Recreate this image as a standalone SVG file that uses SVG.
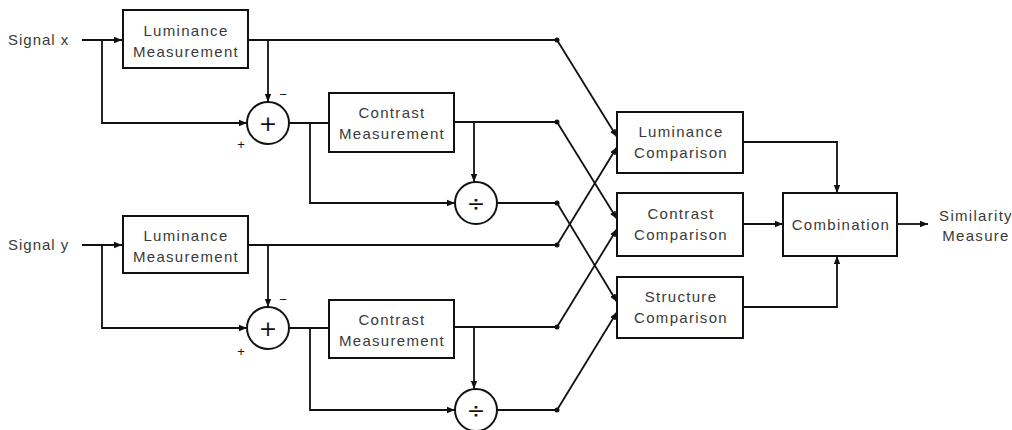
<svg xmlns="http://www.w3.org/2000/svg" width="1012" height="430" viewBox="0 0 1012 430">
<defs>
<marker id="ah" viewBox="0 0 10 10" refX="10" refY="5" markerWidth="8" markerHeight="8" markerUnits="userSpaceOnUse" orient="auto">
<path d="M0,1 L10,5 L0,9 z" fill="#111"/>
</marker>
<style>
.box{fill:#fff;stroke:#111;stroke-width:2}
.op{fill:#fff;stroke:#111;stroke-width:2}
.t{font-family:"Liberation Sans",Arial,sans-serif;font-size:15px;letter-spacing:1.3px;fill:#3a3a3a;text-anchor:middle}
.lbl{font-family:"Liberation Sans",Arial,sans-serif;font-size:15px;letter-spacing:1px;fill:#3a3a3a}
.sym{font-family:"DejaVu Sans",sans-serif;font-size:22px;fill:#111;text-anchor:middle}
.sg{font-family:"Liberation Sans",Arial,sans-serif;font-size:13px;fill:#111;text-anchor:middle}
.w{fill:none;stroke:#111;stroke-width:1.8}
.a{fill:none;stroke:#111;stroke-width:1.8;marker-end:url(#ah)}
.d{fill:#111}
</style>
</defs>
<rect width="1012" height="430" fill="#fff"/>

<g id="connectors">
<!-- signal x -->
<path class="a" d="M82,40 H122"/>
<path class="a" d="M102,40 V123 H247"/>
<path class="w" d="M248,40 H557"/>
<path class="a" d="M268,40 V102"/>
<path class="w" d="M289,123 H329"/>
<path class="a" d="M310,123 V203 H455"/>
<path class="w" d="M454,122 H557"/>
<path class="a" d="M474,122 V182"/>
<path class="w" d="M497,203 H557"/>
<!-- signal y -->
<path class="a" d="M82,245 H122"/>
<path class="a" d="M102,245 V328 H247"/>
<path class="w" d="M248,245 H557"/>
<path class="a" d="M268,245 V307"/>
<path class="w" d="M289,328 H329"/>
<path class="a" d="M310,328 V410 H455"/>
<path class="w" d="M454,327 H557"/>
<path class="a" d="M474,327 V389"/>
<path class="w" d="M497,410 H557"/>
<!-- crossings -->
<path class="a" d="M557,40 L617,137"/>
<path class="a" d="M557,245 L617,147"/>
<path class="a" d="M557,122 L617,219"/>
<path class="a" d="M557,327 L617,229"/>
<path class="a" d="M557,203 L617,302"/>
<path class="a" d="M557,410 L617,312"/>
<!-- to combination -->
<path class="a" d="M743,142 H837 V193"/>
<path class="a" d="M743,224 H783"/>
<path class="a" d="M743,307 H837 V256"/>
<path class="a" d="M897,224 H928"/>
<!-- junction dots -->
<circle class="d" cx="557" cy="40" r="2.5"/>
<circle class="d" cx="557" cy="122" r="2.5"/>
<circle class="d" cx="557" cy="203" r="2.5"/>
<circle class="d" cx="557" cy="245" r="2.5"/>
<circle class="d" cx="557" cy="327" r="2.5"/>
<circle class="d" cx="557" cy="410" r="2.5"/>
</g>

<g id="signal-x"><text class="lbl" x="8" y="45">Signal x</text></g>
<g id="signal-y"><text class="lbl" x="8" y="250">Signal y</text></g>

<g id="lum-meas-x">
<rect class="box" x="123" y="10" width="125" height="58"/>
<text class="t" x="186" y="36">Luminance</text>
<text class="t" x="186" y="57">Measurement</text>
</g>
<g id="sum-x">
<circle class="op" cx="268" cy="123" r="21"/>
<text class="sym" x="268" y="131">+</text>
<text class="sg" x="283" y="99">−</text>
<text class="sg" x="241" y="149">+</text>
</g>
<g id="con-meas-x">
<rect class="box" x="329" y="93" width="125" height="59"/>
<text class="t" x="392" y="118">Contrast</text>
<text class="t" x="392" y="139">Measurement</text>
</g>
<g id="div-x">
<circle class="op" cx="476" cy="203" r="21"/>
<text class="sym" x="476" y="211">÷</text>
</g>

<g id="lum-meas-y">
<rect class="box" x="123" y="216" width="125" height="57"/>
<text class="t" x="186" y="241">Luminance</text>
<text class="t" x="186" y="262">Measurement</text>
</g>
<g id="sum-y">
<circle class="op" cx="268" cy="328" r="21"/>
<text class="sym" x="268" y="336">+</text>
<text class="sg" x="283" y="304">−</text>
<text class="sg" x="241" y="356">+</text>
</g>
<g id="con-meas-y">
<rect class="box" x="329" y="300" width="125" height="58"/>
<text class="t" x="392" y="325">Contrast</text>
<text class="t" x="392" y="346">Measurement</text>
</g>
<g id="div-y">
<circle class="op" cx="476" cy="410" r="21"/>
<text class="sym" x="476" y="418">÷</text>
</g>

<g id="lum-comp">
<rect class="box" x="617" y="112" width="126" height="61"/>
<text class="t" x="681" y="137">Luminance</text>
<text class="t" x="681" y="158">Comparison</text>
</g>
<g id="con-comp">
<rect class="box" x="617" y="193" width="126" height="63"/>
<text class="t" x="681" y="219">Contrast</text>
<text class="t" x="681" y="240">Comparison</text>
</g>
<g id="str-comp">
<rect class="box" x="617" y="277" width="126" height="61"/>
<text class="t" x="681" y="302">Structure</text>
<text class="t" x="681" y="323">Comparison</text>
</g>
<g id="combination">
<rect class="box" x="783" y="193" width="114" height="63"/>
<text class="t" x="841" y="230">Combination</text>
</g>
<g id="similarity">
<text class="t" x="976" y="221">Similarity</text>
<text class="t" x="976" y="241">Measure</text>
</g>
</svg>
